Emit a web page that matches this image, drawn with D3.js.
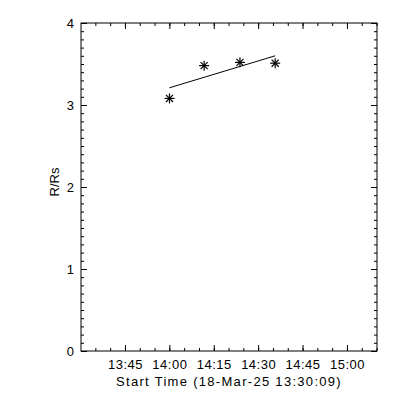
<!DOCTYPE html>
<html lang="en">
<head>
    <meta charset="UTF-8">
    <title>R/Rs vs time</title>
    <script src="https://d3js.org/d3.v7.min.js"></script>
    <style>
        body { margin: 0; background: #fff; }
        text {
            font-family: "Liberation Sans", Arial, sans-serif;
            font-size: 13px;
            fill: #000;
        }
    </style>
</head>
<body>
<svg width="400" height="400"></svg>

<script>
    // observed heights (R/Rs) at each start time
    const times = ["14:00:03", "14:11:45", "14:23:51", "14:35:45"];
    const heights = [3.08, 3.48, 3.52, 3.51];

    // linear fit drawn through the points
    const fitTimes = ["14:00:03", "14:35:45"];
    const fitHeights = [3.21, 3.60];

    const xTickLabels = ["13:45", "14:00", "14:15", "14:30", "14:45", "15:00"];
    const yTickLabels = [0, 1, 2, 3, 4];
    const startLabel = "18-Mar-25 13:30:09";

    const parse = d3.timeParse("%H:%M:%S");
    const parseHM = d3.timeParse("%H:%M");

    const width = 400, height = 400;
    const margin = {top: 23, right: 23, bottom: 49, left: 81};

    const svg = d3.select("svg")
        .attr("width", width)
        .attr("height", height);

    const x = d3.scaleTime()
        .domain([parse("13:30:09"), parse("15:10:09")])
        .range([margin.left, width - margin.right]);

    const y = d3.scaleLinear()
        .domain([0, 4])
        .range([height - margin.bottom, margin.top]);

    const majorX = xTickLabels.map(parseHM);
    const minorX = d3.timeMinute.every(5).range(x.domain()[0], x.domain()[1]);
    const minorY = d3.range(0, 41).map(d => d / 10);

    // bottom and top axes
    const fmt = d3.timeFormat("%H:%M");
    svg.append("g")
        .attr("transform", `translate(0,${height - margin.bottom})`)
        .call(d3.axisBottom(x).tickValues(minorX).tickSize(-3).tickFormat(""))
        .call(g => g.select(".domain").remove());
    svg.append("g")
        .attr("class", "xlab")
        .attr("transform", `translate(0,${height - margin.bottom})`)
        .call(d3.axisBottom(x).tickValues(majorX).tickSize(-6).tickPadding(9).tickFormat(fmt))
        .call(g => g.select(".domain").remove());
    svg.append("g")
        .attr("transform", `translate(0,${margin.top})`)
        .call(d3.axisTop(x).tickValues(minorX).tickSize(-3).tickFormat(""))
        .call(g => g.select(".domain").remove());
    svg.append("g")
        .attr("transform", `translate(0,${margin.top})`)
        .call(d3.axisTop(x).tickValues(majorX).tickSize(-6).tickFormat(""))
        .call(g => g.select(".domain").remove());

    // left and right axes
    svg.append("g")
        .attr("transform", `translate(${margin.left},0)`)
        .call(d3.axisLeft(y).tickValues(minorY).tickSize(-3).tickFormat(""))
        .call(g => g.select(".domain").remove());
    svg.append("g")
        .attr("transform", `translate(${margin.left},0)`)
        .call(d3.axisLeft(y).tickValues(yTickLabels).tickSize(-6).tickPadding(7).tickFormat(d3.format("d")))
        .call(g => g.select(".domain").remove());
    svg.append("g")
        .attr("transform", `translate(${width - margin.right},0)`)
        .call(d3.axisRight(y).tickValues(minorY).tickSize(-3).tickFormat(""))
        .call(g => g.select(".domain").remove());
    svg.append("g")
        .attr("transform", `translate(${width - margin.right},0)`)
        .call(d3.axisRight(y).tickValues(yTickLabels).tickSize(-6).tickFormat(""))
        .call(g => g.select(".domain").remove());

    svg.selectAll(".tick text")
        .style("font-family", "'Liberation Sans', Arial, sans-serif")
        .style("font-size", "13px");
    svg.selectAll(".xlab .tick text")
        .style("letter-spacing", "0.5px");

    // frame
    svg.append("rect")
        .attr("x", margin.left)
        .attr("y", margin.top)
        .attr("width", width - margin.left - margin.right)
        .attr("height", height - margin.top - margin.bottom)
        .attr("fill", "none")
        .attr("stroke", "#000");

    // axis titles
    svg.append("text")
        .attr("x", (margin.left + width - margin.right) / 2)
        .attr("y", 386)
        .attr("text-anchor", "middle")
        .style("letter-spacing", "1.3px")
        .text("Start Time (" + startLabel + ")");

    svg.append("text")
        .attr("transform", `translate(59,182) rotate(-90)`)
        .attr("text-anchor", "middle")
        .text("R/Rs");

    // fit line
    const line = d3.line()
        .x(d => x(parse(d[0])))
        .y(d => y(d[1]));
    svg.append("path")
        .datum(fitTimes.map((t, i) => [t, fitHeights[i]]))
        .attr("d", line)
        .attr("fill", "none")
        .attr("stroke", "#000")
        .attr("stroke-width", 1);

    // asterisk markers
    const star = svg.append("g")
        .selectAll("g")
        .data(times.map((t, i) => ({t: parse(t), v: heights[i]})))
        .enter().append("g")
        .attr("transform", d => `translate(${x(d.t)},${y(d.v)})`);
    [0, 45, 90, 135].forEach(a => {
        star.append("line")
            .attr("x1", -5).attr("x2", 5)
            .attr("y1", 0).attr("y2", 0)
            .attr("transform", `rotate(${a})`)
            .attr("stroke", "#000")
            .attr("stroke-width", 1.2);
    });
</script>
</body>
</html>
